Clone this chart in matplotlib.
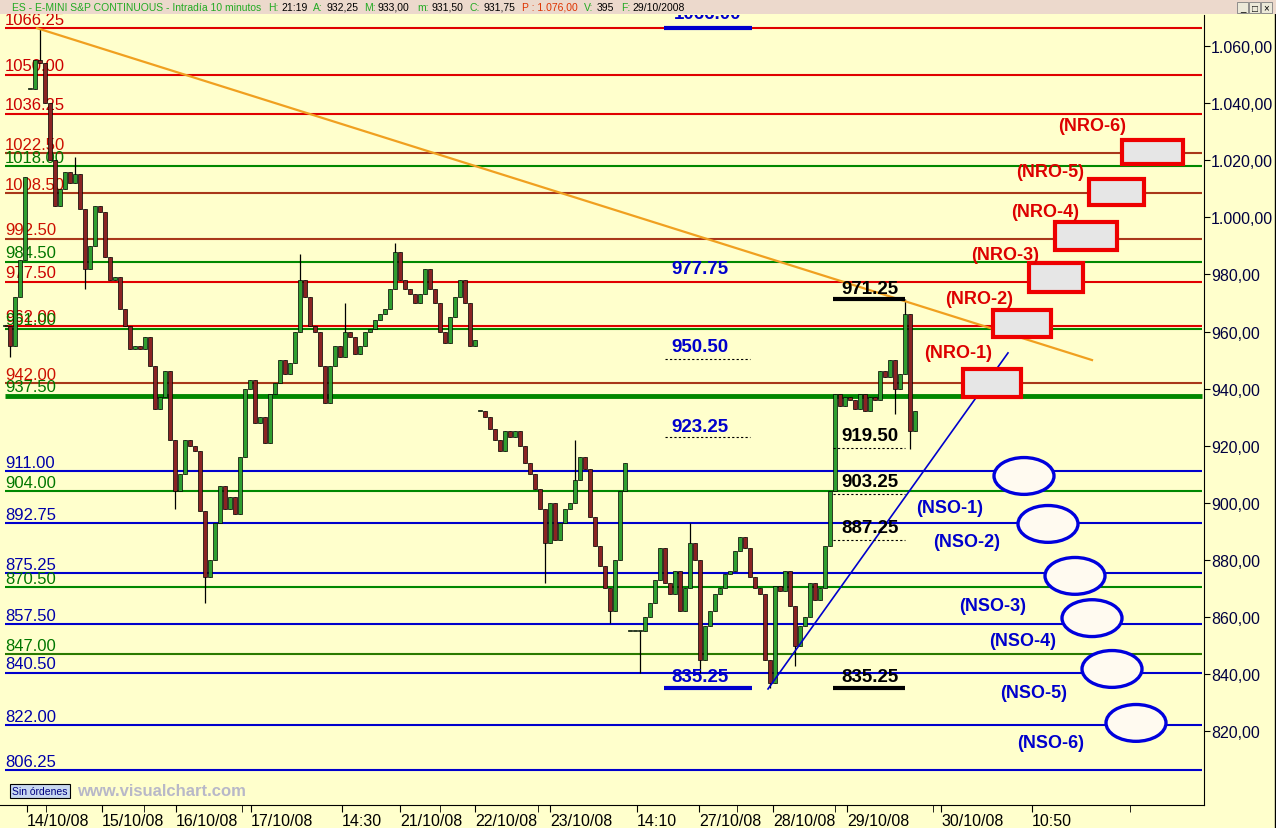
import matplotlib
matplotlib.use("Agg")
import matplotlib.pyplot as plt
import matplotlib.patches as mpatches
import matplotlib.lines as mlines
import numpy as np

plt.rcParams['font.family'] = ['Liberation Sans', 'DejaVu Sans']

# cierres de cada vela (10 min, comprimido)
closes = [
    962, 955, 972, 985, 1014, 1045, 1055, 1054, 1040, 1020,
    1004, 1010, 1016, 1012, 1015, 1003, 982, 990, 1004, 1002,
    986, 978, 979, 968, 962, 954, 955, 954, 958, 948,
    933, 937, 946, 922, 904, 910, 922, 920, 918, 897,
    874, 880, 893, 906, 898, 902, 896, 916, 940, 943,
    928, 930, 921, 938, 942, 950, 945, 949, 960, 978,
    972, 962, 960, 948, 935, 948, 955, 951, 960, 958,
    952, 955, 960, 961, 964, 966, 968, 975, 988, 978,
    975, 973, 970, 973, 982, 975, 970, 960, 956, 965,
    972, 978, 970, 955, 957, 932, 930, 926, 922, 918,
    925, 923, 925, 920, 914, 910, 905, 898, 886, 900,
    887, 893, 898, 900, 908, 916, 912, 895, 885, 878,
    870, 862, 880, 904, 914, 855, 855, 855, 860, 865,
    873, 884, 872, 868, 876, 862, 870, 886, 880, 845,
    857, 862, 868, 870, 875, 876, 883, 888, 884, 874,
    870, 868, 845, 837, 871, 869, 876, 864, 850, 857,
    860, 872, 866, 870, 885, 904, 938, 934, 937, 936,
    933, 938, 932, 937, 936, 946, 944, 950, 940, 945,
    966, 925, 932,
]
gap_bars = [5, 95, 125]
wick_highs = {7: 1066.25, 14: 1021, 59: 987, 68: 970, 78: 991, 114: 922,
              137: 893, 180: 971.25}
wick_lows = {1: 951, 16: 975, 34: 898, 40: 865, 108: 872, 121: 858, 127: 840.5,
             139: 840.5, 153: 835.25, 158: 843, 178: 931, 181: 919}

levels_red = [1066.25, 1050.00, 1036.25, 977.50, 962.00]
levels_brown = [1022.50, 1008.50, 992.50, 942.00]
levels_green = [1018.00, 984.50, 961.00, 937.50, 904.00, 870.50, 847.00]
levels_blue = [911.00, 892.75, 875.25, 857.50, 840.50, 822.00, 806.25]

xtick_labels = ["14/10/08", "15/10/08", "16/10/08", "17/10/08", "14:30", "21/10/08",
                "22/10/08", "23/10/08", "14:10", "27/10/08", "28/10/08", "29/10/08",
                "30/10/08", "10:50"]
ytick_values = [820, 840, 860, 880, 900, 920, 940, 960, 980, 1000, 1020, 1040, 1060]

nro_labels = ["(NRO-1)", "(NRO-2)", "(NRO-3)", "(NRO-4)", "(NRO-5)", "(NRO-6)"]
nso_labels = ["(NSO-1)", "(NSO-2)", "(NSO-3)", "(NSO-4)", "(NSO-5)", "(NSO-6)"]
nso_levels = [909.4, 892.6, 874.4, 859.6, 841.8, 822.9]

BG = '#ffffcc'
RED = '#e00000'
BROWN = '#a8381a'
GREEN = '#008800'
BLUE = '#0000cc'

fig = plt.figure(figsize=(12.76, 8.29), dpi=100)
fig.patch.set_facecolor(BG)
ax = fig.add_axes([0, 23 / 829, 1204 / 1276, 790 / 829])
ax.set_facecolor(BG)
ax.set_xlim(-1, 239.8)
ax.set_ylim(794.15, 1070.86)

# niveles horizontales
def level(v, color, lab_color, lw=1.5):
    ax.hlines(v, 0, 239.4, color=color, lw=lw, zorder=1)
    ax.annotate(f"{v:.2f}", (0, v), xytext=(0, 1), textcoords='offset points',
                ha='left', va='bottom', fontsize=12, color=lab_color, zorder=2)

for v in levels_red:
    level(v, RED, '#cc0000')
for v in levels_brown:
    level(v, BROWN, '#cc1100')
for v in levels_blue:
    level(v, BLUE, '#0000aa')
for v in levels_green:
    level(v, '#2a7a00' if v == 847.00 else GREEN, '#007700',
          lw=3.5 if v == 937.50 else 1.5)

# velas
n = len(closes)
xs = np.arange(n)
opens = [closes[0]] + closes[:-1]
for g in gap_bars:
    opens[g] = closes[g]
opens = np.array(opens, dtype=float)
cl = np.array(closes, dtype=float)
lows = [wick_lows.get(i, min(opens[i], cl[i])) for i in range(n)]
highs = [wick_highs.get(i, max(opens[i], cl[i])) for i in range(n)]
ax.vlines(xs, lows, highs, color='black', lw=0.9, zorder=3)
up = cl >= opens
colors = np.where(up, '#2f9e2f', '#8b2323')
ax.bar(xs, np.maximum(np.abs(cl - opens), 0.35), bottom=np.minimum(cl, opens),
       width=0.68, color=colors, edgecolor='black', lw=0.5, zorder=4)

# lineas de tendencia
ax.plot([6.4, 217.4], [1066.25, 950.0], color='#f0a020', lw=1.6, zorder=5)
ax.plot([152.6, 200.6], [834.8, 952.5], color=BLUE, lw=1.2, zorder=5)

# anotaciones azules centrales
bold = dict(fontsize=13.5, fontweight='bold', ha='center', va='center', zorder=6)
ax.text(140.6, 1071.5, "1066.00", color=BLUE, clip_on=True, **bold)
ax.hlines(1066.25, 131.8, 149.4, color=BLUE, lw=3, zorder=6)
ax.text(139, 981.9, "977.75", color=BLUE, **bold)
ax.text(139, 954.6, "950.50", color=BLUE, **bold)
ax.hlines(950.4, 132, 149, color='black', lw=0.8, ls=(0, (2, 2)), zorder=6)
ax.text(139, 926.9, "923.25", color=BLUE, **bold)
ax.hlines(923.05, 132, 149, color='black', lw=0.8, ls=(0, (2, 2)), zorder=6)
ax.text(139, 839.0, "835.25", color=BLUE, **bold)
ax.hlines(835.25, 131.8, 149.4, color=BLUE, lw=3, zorder=6)

# anotaciones negras
ax.text(173, 974.9, "971.25", color='black', **bold)
ax.hlines(971.4, 165.6, 180, color='black', lw=3, zorder=6)
for txt, ty, ly in [("919.50", 923.4, 919.2), ("903.25", 907.3, 903.1),
                    ("887.25", 891.2, 887.0)]:
    ax.text(173, ty, txt, color='black', **bold)
    ax.hlines(ly, 165.6, 180, color='black', lw=0.8, ls=(0, (2, 2)), zorder=6)
ax.text(173, 839.0, "835.25", color='black', **bold)
ax.hlines(835.25, 165.6, 180, color='black', lw=3, zorder=6)

# cajas NRO
lab = dict(fontsize=13, fontweight='bold', ha='center', va='center', zorder=6)
nro_boxes = [(191.6, 937.1, 11.6, 9.8), (197.6, 958.1, 11.6, 9.4),
             (204.8, 973.8, 10.8, 10.2), (210.0, 988.5, 12.4, 9.9),
             (216.8, 1004.3, 11.0, 9.1), (223.4, 1018.7, 12.2, 8.4)]
nro_text_pos = [(190.6, 952.5), (194.8, 971.7), (200.0, 987.1),
                (208.0, 1002.2), (209.0, 1015.9), (217.4, 1032.0)]
for (bx, by, bw, bh), (tx, ty), t in zip(nro_boxes, nro_text_pos, nro_labels):
    ax.add_patch(mpatches.Rectangle((bx, by), bw, bh, fc='#e6e6e6', ec='#ee0000',
                                    lw=3, zorder=6))
    ax.text(tx, ty, t, color='#dd0000', **lab)

# elipses NSO
nso_x = [203.8, 208.6, 214.0, 217.4, 221.4, 226.2]
nso_text_pos = [(189.0, 898.5), (192.4, 886.6), (197.6, 864.2),
                (203.6, 851.6), (205.8, 833.7), (209.2, 816.2)]
for cx, cy, (tx, ty), t in zip(nso_x, nso_levels, nso_text_pos, nso_labels):
    ax.add_patch(mpatches.Ellipse((cx, cy), 12, 12.9, fc='#fffaf0', ec='#0000dd',
                                  lw=2.4, zorder=6))
    ax.text(tx, ty, t, color='#0000cc', **lab)

# ejes
for s in ['left', 'top']:
    ax.spines[s].set_visible(False)
ax.spines['right'].set_color('black')
ax.spines['bottom'].set_color('black')
ax.yaxis.tick_right()
ax.set_yticks(ytick_values)
ax.set_yticklabels([f"{v:,.2f}".replace(',', 'X').replace('.', ',').replace('X', '.')
                    for v in ytick_values])
ax.tick_params(axis='y', length=4, direction='out', labelsize=11.5,
               labelcolor='#000040', pad=1)
major_x = [4.4, 19.4, 34.2, 49.2, 67.4, 79, 94, 109, 126.4, 138.8, 153.6, 168.4,
           187.2, 205.4]
minor_x = [8.2, 27.8, 47.4, 87, 106.6, 146.4, 166, 185.6, 225]
ax.set_xticks(major_x)
ax.set_xticklabels(xtick_labels, ha='left')
ax.set_xticks(minor_x, minor=True)
ax.tick_params(axis='x', which='both', length=5, direction='out', labelsize=11.5, pad=1)

# barra de titulo
fig.patches.append(mpatches.Rectangle((0, 1 - 15 / 829), 1, 15 / 829,
                                      transform=fig.transFigure, fc='#ecd9cc',
                                      ec='none', zorder=10))
title_parts = [(12, "ES - E-MINI S&P CONTINUOUS - Intradía 10 minutos", '#22aa22'),
               (268, "H:", '#22aa22'), (281, "21:19", 'black'),
               (313, "A:", '#22aa22'), (327, "932,25", 'black'),
               (364, "M:", '#22aa22'), (378, "933,00", 'black'),
               (417, "m:", '#22aa22'), (432, "931,50", 'black'),
               (470, "C:", '#22aa22'), (483, "931,75", 'black'),
               (522, "P : 1.076,00", '#dd3300'),
               (584, "V:", '#22aa22'), (597, "395", 'black'),
               (621, "F:", '#22aa22'), (632, "29/10/2008", 'black')]
for px, t, c in title_parts:
    fig.text(px / 1276, 1 - 8 / 829, t, color=c, fontsize=7.5, va='center',
             ha='left', zorder=11)
for k, sym in enumerate(["_", "□", "×"]):
    x0 = 1237 + k * 12
    fig.patches.append(mpatches.Rectangle((x0 / 1276, 1 - 14 / 829), 11 / 1276,
                                          11 / 829, transform=fig.transFigure,
                                          fc='#ece9d8', ec='#808080', lw=0.6,
                                          zorder=11))
    fig.text((x0 + 5.5) / 1276, 1 - 8.5 / 829, sym, fontsize=7, ha='center',
             va='center', color='black', zorder=12)
fig.lines.append(mlines.Line2D([1275 / 1276, 1275 / 1276], [0, 1 - 15 / 829],
                               transform=fig.transFigure, color='black', lw=1))

# pie
fig.text(12 / 1276, 1 - 792 / 829, "Sin órdenes", fontsize=7.5, color='#000080',
         va='center', ha='left', zorder=12,
         bbox=dict(boxstyle='square,pad=0.2', fc='#c8d8f0', ec='black', lw=0.8))
fig.text(77 / 1276, 1 - 792 / 829, "www.visualchart.com", fontsize=12,
         fontweight='bold', color='#b8b8c8', va='center', ha='left', zorder=12)

fig.savefig('out.png', dpi=100, facecolor=BG)
